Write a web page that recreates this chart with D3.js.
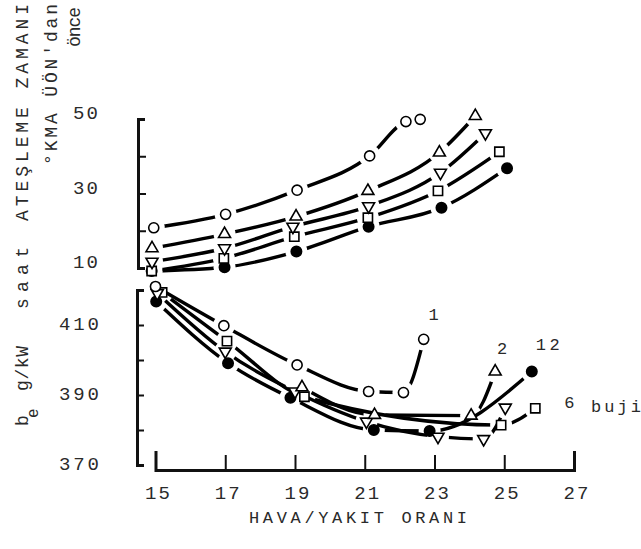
<!DOCTYPE html>
<html>
<head>
<meta charset="utf-8">
<script src="https://cdn.jsdelivr.net/npm/d3@7"></script>
<style>
  html, body { margin: 0; padding: 0; background: #fff; }
  svg { display: block; }
  text { font-family: "Liberation Mono", "DejaVu Sans Mono", monospace; fill: #2a2a2a; }
</style>
</head>
<body>
<svg id="chart" width="641" height="549"></svg>
<script>
// Air/fuel ratio on the x axis
const xTicks = [15, 17, 19, 21, 23, 25, 27];

// Upper panel: ignition timing (°crank angle before TDC)
const upperTicks = [20, 30, 40];
const upperLabels = [50, 30, 10];
const ignCircle   = [[14.95, 20.8], [17.01, 24.4], [19.06, 30.9], [21.14, 40.1], [22.18, 49.3], [22.59, 49.9]];
const ignTriUp    = [[14.90, 15.3], [16.98, 19.1], [19.03, 23.8], [21.09, 30.7], [23.14, 41.0], [24.17, 50.8]];
const ignTriDown  = [[14.90, 11.7], [16.98, 15.3], [18.94, 21.1], [21.11, 26.6], [23.17, 35.6], [24.46, 46.2]];
const ignSquare   = [[14.89, 9.2], [16.96, 12.6], [18.98, 18.4], [21.09, 23.5], [23.10, 30.7], [24.86, 41.2]];
const ignDot      = [[14.89, 9.2], [16.98, 10.2], [19.04, 14.4], [21.11, 21.1], [23.20, 26.2], [25.08, 36.8]];

// Lower panel: specific fuel consumption b_e (g/kW saat)
const lowerTicks = [380, 390, 400, 410];
const lowerLabels = [410, 390, 370];
const bsfcCircle  = [[15.00, 421.0], [16.96, 409.8], [19.06, 398.6], [21.11, 391.0], [22.11, 390.7], [22.69, 405.9]];
const bsfcTriUp   = [[19.20, 392.2], [21.28, 384.3], [24.05, 384.1], [24.74, 396.7]];
const bsfcTriDown = [[15.05, 419.1], [17.00, 402.4], [19.00, 391.0], [21.05, 382.4], [23.10, 378.1], [24.41, 377.4], [25.03, 386.4]];
const bsfcSquare  = [[15.19, 419.3], [17.05, 405.4], [19.27, 389.5], [24.91, 381.4], [25.89, 386.2]];
const bsfcDot     = [[15.02, 416.7], [17.08, 399.1], [18.87, 389.2], [21.26, 380.0], [22.86, 379.7], [25.79, 396.7]];

// Spark plug counts written beside the fuel-consumption curves
const plugLabels = [
  { text: "1",  series: "circle", dx: 10, dy: -19 },
  { text: "2",  series: "triUp",  dx: 7,  dy: -18 },
  { text: "12", series: "dot",    dx: 16, dy: -22 },
  { text: "6",  series: "square", dx: 34, dy: 0 }
];

const svg = d3.select("#chart");

const x = d3.scaleLinear().domain([15, 27]).range([155.5, 574]);
const yTop = d3.scaleLinear().domain([10, 50]).range([268, 119]);
const yBot = d3.scaleLinear().domain([370, 420]).range([465, 290]);

// ---- axes ----
function styleAxis(g, w) {
  g.select(".domain").attr("stroke", "#111").attr("stroke-width", w).attr("fill", "none");
  g.selectAll(".tick line").attr("stroke", "#111").attr("stroke-width", 2);
  g.selectAll(".tick text").remove();
}

svg.append("g")
  .attr("transform", "translate(0,470)")
  .call(d3.axisTop(x).tickValues(xTicks).tickSize(15).tickSizeOuter(19).tickFormat(""))
  .call(g => styleAxis(g, 3));

svg.append("g")
  .attr("transform", "translate(138,0)")
  .call(d3.axisRight(yTop).tickValues(upperTicks).tickSize(8).tickSizeOuter(7).tickFormat(""))
  .call(g => styleAxis(g, 3));

svg.append("g")
  .attr("transform", "translate(137,0)")
  .call(d3.axisRight(yBot).tickValues(lowerTicks).tickSize(7).tickSizeOuter(7).tickFormat(""))
  .call(g => styleAxis(g, 3));

// tick labels
svg.append("g").selectAll("text").data(xTicks).join("text")
  .attr("x", d => x(d) + 2).attr("y", 499)
  .attr("text-anchor", "middle")
  .attr("font-size", 19)
  .attr("textLength", 25).attr("lengthAdjust", "spacing")
  .text(d => d);

svg.append("g").selectAll("text").data(upperLabels).join("text")
  .attr("x", 98).attr("y", d => yTop(d) + 0)
  .attr("text-anchor", "end")
  .attr("font-size", 19)
  .attr("textLength", 25).attr("lengthAdjust", "spacing")
  .text(d => d);

svg.append("g").selectAll("text").data(lowerLabels).join("text")
  .attr("x", 99).attr("y", d => yBot(d) + 5)
  .attr("text-anchor", "end")
  .attr("font-size", 19)
  .attr("textLength", 40).attr("lengthAdjust", "spacing")
  .text(d => d);

// axis titles
svg.append("text")
  .attr("x", 249).attr("y", 523)
  .attr("font-size", 17)
  .attr("textLength", 218).attr("lengthAdjust", "spacing")
  .text("HAVA/YAKIT ORANI");

function vText(baseX, startY, len, str, size) {
  return svg.append("text")
    .attr("transform", `translate(${baseX},0) rotate(-90)`)
    .attr("x", -startY).attr("y", 0)
    .attr("font-size", size)
    .attr("textLength", len).attr("lengthAdjust", "spacing")
    .text(str);
}
vText(28, 221, 217, "ATEŞLEME ZAMANI", 18);
vText(57, 165, 161, "°KMA ÜÖN'dan", 18);
vText(80, 47, 40, "önce", 18);

vText(28, 426, 10, "b", 18);
vText(38, 418, 11, "e", 16);
vText(28, 391, 45, "g/kW", 18);
vText(28, 309, 62, "saat", 18);

// ---- curves and markers ----
const symbols = {
  circle:  { type: d3.symbolCircle,   size: 80,  rot: 0,   fill: "#fff" },
  triUp:   { type: d3.symbolTriangle, size: 62,  rot: 0,   fill: "#fff" },
  triDown: { type: d3.symbolTriangle, size: 62,  rot: 180, fill: "#fff" },
  square:  { type: d3.symbolSquare,   size: 85,  rot: 0,   fill: "#fff" },
  dot:     { type: d3.symbolCircle,   size: 85,  rot: 0,   fill: "#000" }
};

const upperSeries = [
  { key: "circle", data: ignCircle }, { key: "triUp", data: ignTriUp },
  { key: "triDown", data: ignTriDown }, { key: "square", data: ignSquare },
  { key: "dot", data: ignDot }
];
const lowerSeries = [
  { key: "circle", data: bsfcCircle }, { key: "triUp", data: bsfcTriUp },
  { key: "triDown", data: bsfcTriDown }, { key: "square", data: bsfcSquare },
  { key: "dot", data: bsfcDot }
];

const defs = svg.append("defs");
let maskId = 0;

function drawPanel(series, yScale) {
  const line = d3.line().x(d => x(d[0])).y(d => yScale(d[1])).curve(d3.curveMonotoneX);
  // each curve is broken open around its own markers
  series.forEach(s => {
    const id = "gap" + (maskId++);
    const m = defs.append("mask").attr("id", id).attr("maskUnits", "userSpaceOnUse")
      .attr("x", 0).attr("y", 0).attr("width", 641).attr("height", 549);
    m.append("rect").attr("width", 641).attr("height", 549).attr("fill", "#fff");
    m.selectAll("circle").data(s.data).join("circle")
      .attr("cx", d => x(d[0])).attr("cy", d => yScale(d[1])).attr("r", 11).attr("fill", "#000");
    svg.append("path")
      .datum(s.data)
      .attr("d", line)
      .attr("fill", "none")
      .attr("stroke", "#000")
      .attr("stroke-width", 3.4)
      .attr("stroke-linecap", "round")
      .attr("mask", `url(#${id})`);
  });
  // filled markers underneath the hollow ones
  const order = ["dot", "square", "triDown", "triUp", "circle"];
  order.forEach(k => {
    const s = series.find(v => v.key === k);
    const sym = symbols[k];
    svg.append("g").selectAll("path").data(s.data).join("path")
      .attr("d", d3.symbol().type(sym.type).size(sym.size))
      .attr("transform", d => `translate(${x(d[0])},${yScale(d[1])}) rotate(${sym.rot})`)
      .attr("fill", sym.fill)
      .attr("stroke", "#000")
      .attr("stroke-width", 1.6);
  });
}

drawPanel(upperSeries, yTop);
drawPanel(lowerSeries, yBot);

// plug-count labels next to the end of each curve
plugLabels.forEach(l => {
  const s = lowerSeries.find(v => v.key === l.series);
  const last = s.data[s.data.length - 1];
  svg.append("text")
    .attr("x", x(last[0]) + l.dx).attr("y", yBot(last[1]) + l.dy)
    .attr("text-anchor", "middle")
    .attr("font-size", 17)
    .attr("textLength", l.text.length > 1 ? 24 : null)
    .attr("lengthAdjust", "spacing")
    .text(l.text);
});
svg.append("text")
  .attr("x", 591).attr("y", 412)
  .attr("font-size", 17)
  .attr("textLength", 50).attr("lengthAdjust", "spacing")
  .text("buji");
</script>
</body>
</html>
